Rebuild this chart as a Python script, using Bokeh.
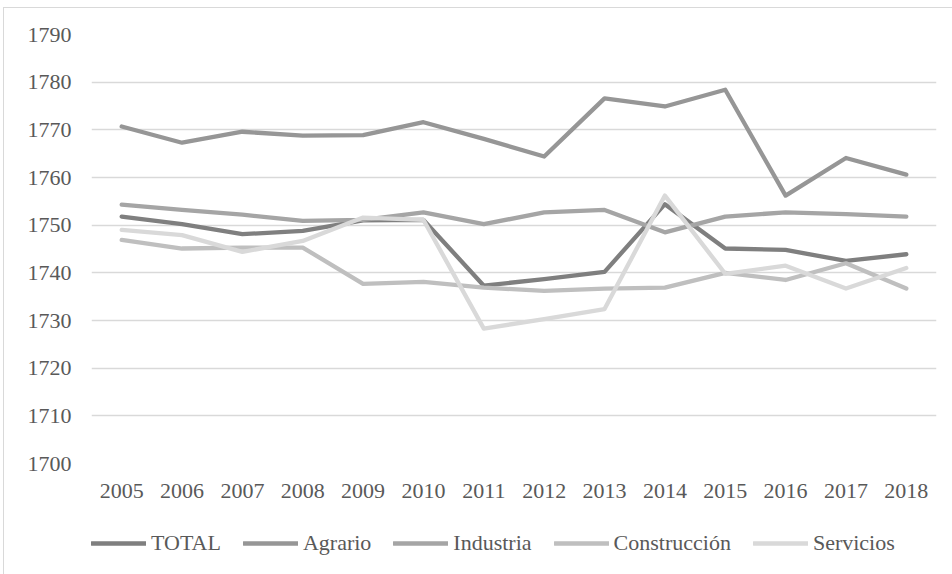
from bokeh.plotting import figure
from bokeh.layouts import column
from bokeh.models import FactorRange, Range1d, Legend, LegendItem, SingleIntervalTicker
from bokeh.embed import file_html
from bokeh.resources import INLINE

years = ["2005", "2006", "2007", "2008", "2009", "2010", "2011",
         "2012", "2013", "2014", "2015", "2016", "2017", "2018"]

total = [1751.8, 1750.2, 1748.1, 1748.8, 1751.0, 1751.1, 1737.3,
         1738.7, 1740.2, 1754.4, 1745.1, 1744.8, 1742.5, 1743.9]
agrario = [1770.7, 1767.3, 1769.6, 1768.8, 1768.9, 1771.6, 1768.1,
           1764.4, 1776.6, 1774.9, 1778.4, 1756.2, 1764.1, 1760.6]
industria = [1754.3, 1753.2, 1752.2, 1750.9, 1751.1, 1752.7, 1750.2,
             1752.7, 1753.2, 1748.5, 1751.8, 1752.7, 1752.3, 1751.8]
construccion = [1746.9, 1745.1, 1745.3, 1745.3, 1737.7, 1738.1, 1736.9,
                1736.2, 1736.7, 1736.9, 1740.0, 1738.5, 1742.0, 1736.7]
servicios = [1749.0, 1747.9, 1744.4, 1746.7, 1751.6, 1751.1, 1728.3,
             1730.3, 1732.4, 1756.2, 1739.8, 1741.5, 1736.7, 1741.0]

series_names = ["TOTAL", "Agrario", "Industria", "Construcción", "Servicios"]
series_values = [total, agrario, industria, construccion, servicios]
series_colors = ["#7f7f7f", "#969696", "#a5a5a5", "#bfbfbf", "#d9d9d9"]

FONT = "Liberation Serif"
TXT = "#595959"
BORDER = "1px solid #d9d9d9"

# main chart
p = figure(frame_width=844, frame_height=428, output_backend="svg", toolbar_location=None,
           x_range=FactorRange(*years), y_range=Range1d(1700, 1790),
           min_border_left=87, min_border_right=17, min_border_top=26,
           min_border_bottom=58,
           styles={"border-left": BORDER, "border-top": BORDER,
                   "margin-left": "3px", "margin-top": "7px"})
p.outline_line_color = None
p.background_fill_color = "white"
p.border_fill_color = "white"

p.xgrid.grid_line_color = None
p.ygrid.grid_line_color = "#d9d9d9"
p.ygrid.grid_line_width = 1.5
p.yaxis.ticker = SingleIntervalTicker(interval=10)

for ax in (p.xaxis, p.yaxis):
    ax.axis_line_color = None
    ax.major_tick_line_color = None
    ax.minor_tick_line_color = None
    ax.major_tick_out = 0
    ax.major_tick_in = 0
    ax.major_label_text_font = FONT
    ax.major_label_text_font_size = "22px"
    ax.major_label_text_color = TXT
p.yaxis.major_label_standoff = 16
p.xaxis.major_label_standoff = 20

for name, vals, col in zip(series_names, series_values, series_colors):
    p.line(years, vals, line_color=col, line_width=4.3,
           line_join="round", line_cap="round")

# legend strip underneath (its series lie outside its own 0..1 view)
p2 = figure(width=948, height=54, output_backend="svg", toolbar_location=None,
            x_range=Range1d(0, 1), y_range=Range1d(0, 1),
            x_axis_location=None, y_axis_location=None,
            min_border_left=0, min_border_right=0, min_border_top=0, min_border_bottom=0,
            styles={"border-left": BORDER, "margin-left": "3px"})
p2.outline_line_color = None
p2.background_fill_color = "white"
p2.border_fill_color = "white"
p2.grid.visible = False

items = []
for name, vals, col in zip(series_names, series_values, series_colors):
    r = p2.line(x=list(range(len(vals))), y=vals, line_color=col, line_width=4.3,
                line_cap="round")
    items.append(LegendItem(label=name, renderers=[r]))

legend = Legend(items=items, orientation="horizontal", location=(0, 18),
                glyph_width=55, glyph_height=24, label_standoff=5, spacing=22,
                padding=0, margin=0, border_line_color=None,
                background_fill_alpha=0,
                label_text_font=FONT, label_text_font_size="22px",
                label_text_color=TXT, label_height=24)
p2.add_layout(legend, "center")

layout = column(p, p2, spacing=0)

open("out.html", "w").write(file_html(layout, INLINE))
